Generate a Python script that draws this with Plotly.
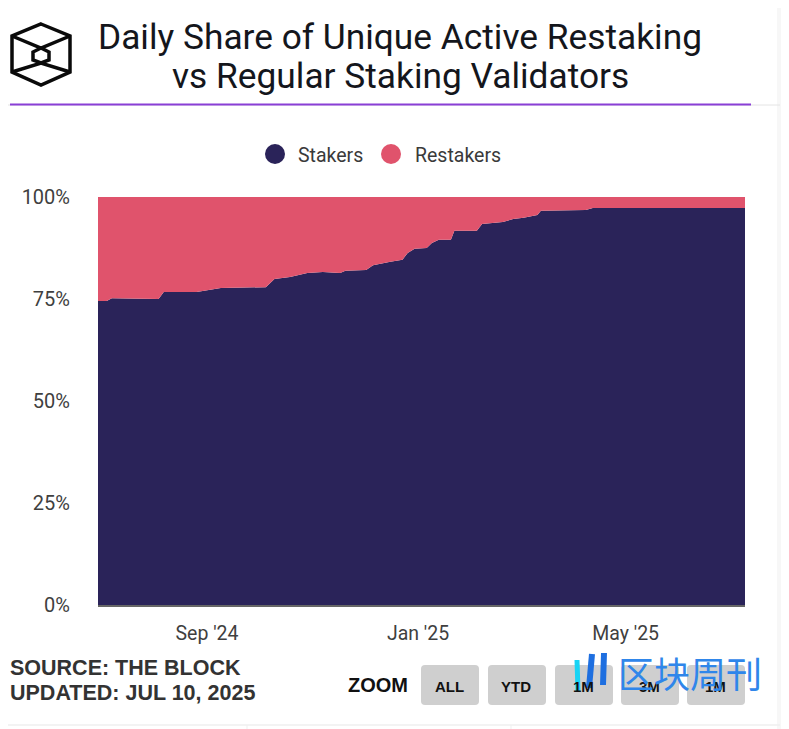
import plotly.graph_objects as go

W, H = 789, 729
OFF = 8                 # the page body's own margin
FW, FH = W - OFF, H - OFF

dates = ["2024-06-30","2024-07-05","2024-07-08","2024-08-04","2024-08-07","2024-08-26","2024-09-09",
         "2024-10-05","2024-10-10","2024-10-19","2024-10-29","2024-11-07","2024-11-17","2024-11-20",
         "2024-12-02","2024-12-06","2024-12-16","2024-12-23","2024-12-26","2024-12-30","2025-01-06",
         "2025-01-09","2025-01-13","2025-01-20","2025-01-22","2025-02-04","2025-02-07","2025-02-19",
         "2025-02-25","2025-03-03","2025-03-11","2025-03-13","2025-04-08","2025-04-12","2025-05-27",
         "2025-07-09"]
stakers = [74.5,74.5,75.2,75.0,76.7,76.7,77.7,77.9,79.9,80.4,81.4,81.6,81.4,81.9,82.1,83.3,84.1,84.6,
           86.3,87.3,87.5,88.7,89.5,89.5,91.7,91.7,93.4,93.9,94.6,94.9,95.6,96.6,96.8,97.3,97.3,97.3]
restakers = [25.5,25.5,24.8,25.0,23.3,23.3,22.3,22.1,20.1,19.6,18.6,18.4,18.6,18.1,17.9,16.7,15.9,15.4,
             13.7,12.7,12.5,11.3,10.5,10.5,8.3,8.3,6.6,6.1,5.4,5.1,4.4,3.4,3.2,2.7,2.7,2.7]
x_ticks = ["2024-09-01","2025-01-01","2025-05-01"]
x_labels = ["Sep '24","Jan '25","May '25"]
y_ticks = [0,25,50,75,100]
y_labels = ["0%","25%","50%","75%","100%"]
zoom_buttons = ["ALL","YTD","1M","3M","1M"]

NAVY, RED = "#2a2359", "#e0536c"

def px(x): return (x - OFF) / FW
def py(y): return 1 - (y - OFF) / FH

fig = go.Figure()
fig.add_trace(go.Scatter(x=dates, y=stakers, name="Stakers", stackgroup="one", mode="none",
                         fillcolor=NAVY, showlegend=False))
fig.add_trace(go.Scatter(x=dates, y=restakers, name="Restakers", stackgroup="one", mode="none",
                         fillcolor=RED, showlegend=False))

shapes, ann = [], []

def line(x0, y0, x1, y1, color, width):
    shapes.append(dict(type="line", xref="paper", yref="paper", x0=px(x0), x1=px(x1), y0=py(y0), y1=py(y1),
                       line=dict(color=color, width=width), layer="above"))

def text(x, y, s, size, color, family, anchor="center", bold=False):
    ann.append(dict(xref="paper", yref="paper", x=px(x), y=py(y), text=f"<b>{s}</b>" if bold else s,
                    showarrow=False, xanchor=anchor, yanchor="middle",
                    font=dict(size=size, color=color, family=family)))

# page furniture
line(OFF, 105, 780, 105, "#e4e4e4", 1)
line(10, 104.5, 751, 104.5, "#8a3fd6", 2)
line(OFF, 725, 780, 725, "#efefef", 1.5)
line(247, 725, 247, 729, "#efefef", 1)
line(511, 725, 511, 729, "#efefef", 1)
shapes.append(dict(type="rect", xref="paper", yref="paper", x0=px(777), x1=1, y0=0, y1=1,
                   fillcolor="#f7f7f7", line=dict(width=0), layer="below"))

# logo
def path(points, close=False):
    d = "M " + " L ".join(f"{px(a):.5f},{py(b):.5f}" for a, b in points)
    return d + (" Z" if close else "")

for pts, closed in [
    ([(41,24),(70,36),(70,72),(41,85),(12,72),(12,36)], True),
    ([(12,36),(41,48),(70,36)], False),
    ([(12,72),(41,63),(70,72)], False),
    ([(41,48),(33,52),(33,60),(41,63),(49,60),(49,52)], True),
]:
    shapes.append(dict(type="path", xref="paper", yref="paper", path=path(pts, closed),
                       line=dict(color="#0a0a0a", width=3.5)))

# title
text(400, 37, "Daily Share of Unique Active Restaking", 35.3, "#14161c", "Roboto")
text(400, 76, "vs Regular Staking Validators", 35.3, "#14161c", "Roboto")

# legend
for cx, col, label, tx in [(275, NAVY, "Stakers", 296), (391, RED, "Restakers", 413)]:
    shapes.append(dict(type="circle", xref="paper", yref="paper", x0=px(cx-10), x1=px(cx+10),
                       y0=py(164), y1=py(144), fillcolor=col, line=dict(width=0)))
    text(tx, 155, label, 19.5, "#3a3a3a", "Roboto", "left")

# footer
text(8, 668, "SOURCE: THE BLOCK", 21.5, "#333333", "Liberation Sans", "left", True)
text(8, 693, "UPDATED: JUL 10, 2025", 21.5, "#333333", "Liberation Sans", "left", True)
text(346, 685, "ZOOM", 20, "#111111", "Liberation Sans", "left", True)

def round_rect(x0, y0, x1, y1, r=4):
    return (f"M {px(x0+r):.5f},{py(y0):.5f} L {px(x1-r):.5f},{py(y0):.5f} "
            f"Q {px(x1):.5f},{py(y0):.5f} {px(x1):.5f},{py(y0+r):.5f} "
            f"L {px(x1):.5f},{py(y1-r):.5f} Q {px(x1):.5f},{py(y1):.5f} {px(x1-r):.5f},{py(y1):.5f} "
            f"L {px(x0+r):.5f},{py(y1):.5f} Q {px(x0):.5f},{py(y1):.5f} {px(x0):.5f},{py(y1-r):.5f} "
            f"L {px(x0):.5f},{py(y0+r):.5f} Q {px(x0):.5f},{py(y0):.5f} {px(x0+r):.5f},{py(y0):.5f} Z")

for left, label in zip([421, 488, 555, 621, 687], zoom_buttons):
    shapes.append(dict(type="path", xref="paper", yref="paper", path=round_rect(left, 665, left+58, 705),
                       fillcolor="#cfcfcf", line=dict(width=0)))
    text(left+28, 686, label, 15, "#111111", "Liberation Sans", "center", True)

# watermark
line(577, 660, 578, 691, "#18d4f5", 5)
line(592, 654, 589, 688, "#1e6fe0", 6)
line(604, 653, 603, 685, "#1e6fe0", 6)
text(690, 672, "区块周刊", 36, "#2f86ea", "Noto Sans CJK SC")

fig.update_layout(
    width=FW, height=FH, autosize=False,
    margin=dict(l=0, r=0, t=0, b=0),
    paper_bgcolor="white", plot_bgcolor="white",
    shapes=shapes, annotations=ann, showlegend=False,
    xaxis=dict(domain=[px(98), px(745)], range=["2024-06-30","2025-07-09"], type="date", automargin=False,
               tickvals=x_ticks, ticktext=x_labels, ticks="outside", ticklen=10, tickcolor="rgba(0,0,0,0)",
               showgrid=False, showline=True, linecolor="#666666", linewidth=2, zeroline=False,
               tickfont=dict(size=19.5, color="#3f3f3f", family="Roboto")),
    yaxis=dict(domain=[py(605), py(197)], range=[0,100], automargin=False, tickvals=y_ticks, ticktext=y_labels,
               showgrid=False, zeroline=False, ticks="outside", ticklen=23, tickcolor="rgba(0,0,0,0)",
               tickfont=dict(size=20, color="#3f3f3f", family="Roboto")),
)
fig.write_html("out.html")
